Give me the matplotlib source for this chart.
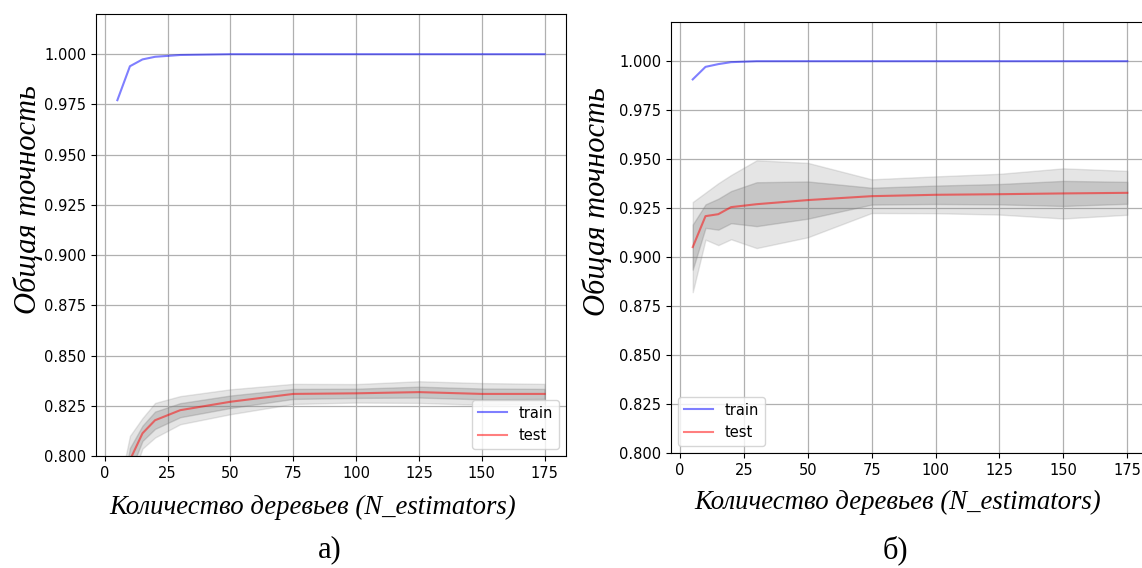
import numpy as np
import matplotlib
matplotlib.use("Agg")
import matplotlib.pyplot as plt

# Number of trees in the forest
n_estimators = [5, 10, 15, 20, 30, 50, 75, 100, 125, 150, 175]

# (а) accuracy vs number of trees
train_a = [0.9771, 0.9940, 0.9974, 0.9987, 0.9996, 1.0000, 1.0000, 1.0000, 1.0000, 1.0000, 1.0000]
test_a = [0.7600, 0.7980, 0.8113, 0.8178, 0.8228, 0.8270, 0.8309, 0.8312, 0.8318, 0.8309, 0.8309]
test_a_std = [0.0100, 0.0060, 0.0038, 0.0043, 0.0035, 0.0031, 0.0025, 0.0023, 0.0027, 0.0027, 0.0025]

# (б) accuracy vs number of trees
train_b = [0.9907, 0.9971, 0.9985, 0.9995, 1.0000, 1.0000, 1.0000, 1.0000, 1.0000, 1.0000, 1.0000]
test_b = [0.9051, 0.9209, 0.9219, 0.9255, 0.9270, 0.9291, 0.9311, 0.9318, 0.9321, 0.9325, 0.9328]
test_b_std = [0.0115, 0.0060, 0.0079, 0.0082, 0.0112, 0.0095, 0.0043, 0.0047, 0.0052, 0.0064, 0.0056]

x_label = "Количество деревьев (N_estimators)"
y_label = "Общая точность"
panel_tags = ["а)", "б)"]

W, H = 1142, 568
fig = plt.figure(figsize=(W / 100, H / 100), dpi=100)
fig.patch.set_facecolor("white")


def px_rect(x0, x1, top, bottom):
    return [x0 / W, 1 - bottom / H, (x1 - x0) / W, (bottom - top) / H]


def draw_panel(ax, train, test, std, legend_loc):
    n = np.array(n_estimators)
    m = np.array(test)
    s = np.array(std)
    ax.fill_between(n, m - 2 * s, m + 2 * s, color="gray", alpha=0.2)
    ax.fill_between(n, m - s, m + s, color="gray", alpha=0.3)
    ax.plot(n, train, color="blue", alpha=0.5, lw=1.5, label="train")
    ax.plot(n, test, color="red", alpha=0.5, lw=1.5, label="test")
    ax.set_ylim(0.8, 1.02)
    ax.set_xlim(-3.5, 183.5)
    ax.set_xticks(np.arange(0, 176, 25))
    ax.set_yticks(np.arange(0.8, 1.0001, 0.025))
    ax.yaxis.set_major_formatter(matplotlib.ticker.FormatStrFormatter("%.3f"))
    ax.tick_params(labelsize=10.5)
    ax.grid(True, color="#b0b0b0", lw=0.9)
    ax.set_axisbelow(True)
    ax.legend(loc=legend_loc, fontsize=10.5)


ax1 = fig.add_axes(px_rect(96, 566, 14, 456))
draw_panel(ax1, train_a, test_a, test_a_std, "lower right")

ax2 = fig.add_axes(px_rect(671, 1149, 22, 453))
draw_panel(ax2, train_b, test_b, test_b_std, "lower left")

serif_x = dict(family="Liberation Serif", style="italic", fontsize=19.3)
serif_y = dict(family="Liberation Serif", style="italic", fontsize=22)
fig.text(313 / W, 1 - 507 / H, x_label, ha="center", va="center", **serif_x)
fig.text(898 / W, 1 - 502 / H, x_label, ha="center", va="center", **serif_x)
fig.text(28 / W, 1 - 200 / H, y_label, ha="center", va="center", rotation=90, **serif_y)
fig.text(597 / W, 1 - 202 / H, y_label, ha="center", va="center", rotation=90, **serif_y)

fig.text(330 / W, 1 - 550 / H, panel_tags[0], ha="center", va="center",
         family="Liberation Serif", fontsize=22)
fig.text(895 / W, 1 - 550 / H, panel_tags[1], ha="center", va="center",
         family="Liberation Serif", fontsize=22)

fig.savefig("out.png", dpi=100, facecolor="white")
